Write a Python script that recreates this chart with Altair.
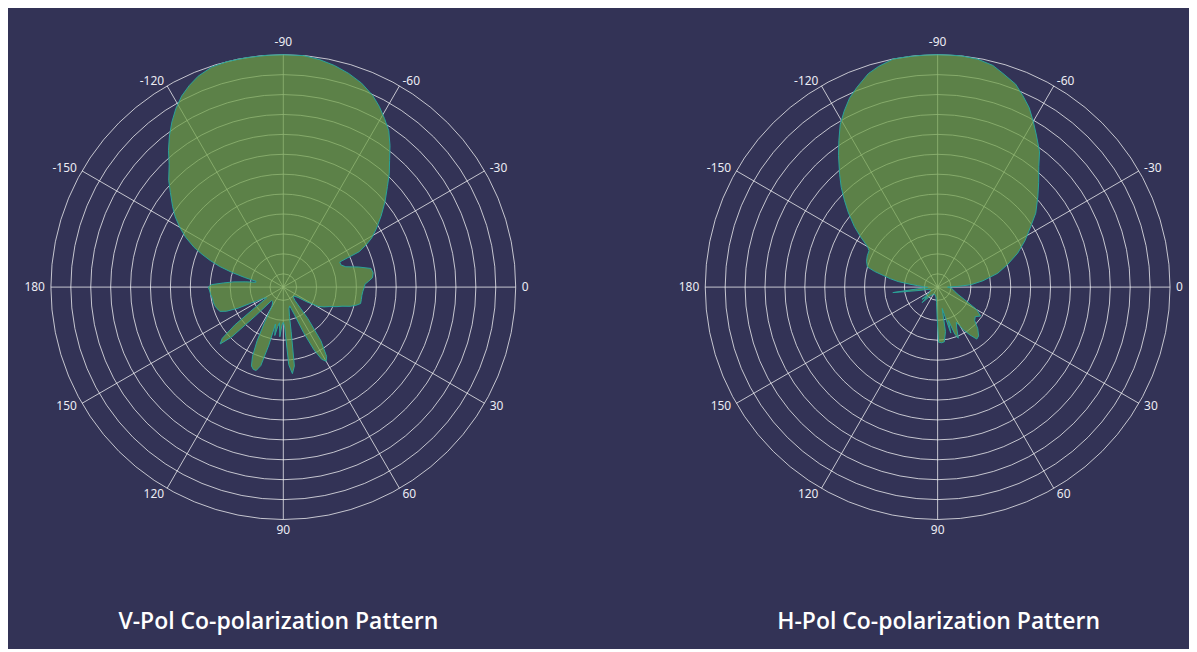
import altair as alt
import pandas as pd

# ---------------- data ----------------
# angles in degrees (0 = right, -90 = top, 90 = bottom), levels in dB
V_ANGLES = [-180, -178, -176, -174, -172, -170, -168, -166, -164, -162, -160, -158, -156,
            -153, -150, -147, -144, -140, -137, -133, -130, -127, -124, -121, -118, -115,
            -112, -108, -104, -99, -94, -90, -85, -81, -77, -73, -69, -65, -62, -59, -56,
            -53, -50, -47, -44, -40, -36, -32, -29, -27, -25, -24, -21, -18, -15, -12, -9,
            -6, -4, -2, 0, 3, 6, 9, 12, 14, 16, 18, 20, 23, 26, 29, 32, 35, 40, 45, 49, 52,
            55, 58, 60, 62, 64, 66, 68, 71, 75, 78, 80, 82, 84, 86, 88, 90, 92, 94, 96, 98,
            100, 102, 104, 106, 108, 110, 112, 114, 116, 118, 121, 126, 131, 134, 136, 138,
            140, 142, 144, 147, 150, 153, 155, 157, 159, 162, 165, 168, 171, 174, 177]
V_LEVELS = [-23.7, -24.2, -26.0, -27.5, -29.3, -30.8, -30.8, -29.0, -26.9, -24.9, -23.3, -21.8, -20.3,
            -18.5, -17.0, -15.6, -14.4, -12.8, -11.4, -9.8, -8.1, -6.5, -5.0, -3.6, -2.4, -1.5,
            -0.75, -0.15, 0.0, 0.0, 0.0, 0.0, 0.0, -0.3, -0.75, -1.35, -2.1, -3.15, -4.2, -5.4, -6.6,
            -8.3, -10.1, -11.6, -13.2, -15.0, -16.8, -18.5, -19.8, -21.0, -22.4, -25.7, -25.7, -25.1, -23.3, -21.5, -21.3,
            -21.5, -22.1, -22.7, -22.8, -23.0, -23.1, -23.1, -23.1, -23.7, -24.5, -25.7, -26.4, -27.5, -28.2, -29.0, -30.8, -32.3, -32.9, -32.9, -32.3, -29.0,
            -25.1, -22.7, -22.1, -22.7, -24.5, -27.5, -30.5, -32.0, -31.7, -30.5, -28.2, -23.0, -21.9, -23.3, -29.0, -29.7, -29.3, -27.5, -29.6, -29.0,
            -27.6, -29.3, -26.0, -22.7, -21.8, -21.8, -22.2, -23.6, -26.0, -29.0, -31.7, -32.3, -32.3, -29.0, -24.2, -22.2,
            -23.0, -25.7, -29.6, -32.0, -31.7, -30.2, -27.5, -25.7, -24.8, -24.5, -24.3, -24.2, -24.2, -24.0, -23.9]

H_ANGLES = [-180, -178, -176, -174, -172, -170, -168, -166, -164, -160, -156, -152, -150, -147,
            -144, -140, -137, -134, -131, -127, -124, -121, -118, -115, -112, -108, -105, -101,
            -97, -93, -90, -87, -84, -80, -76, -73, -69, -66, -63, -60, -57, -53, -50, -46, -42,
            -37, -33, -28, -23, -18, -13, -8, -4, -2, 0, 5, 10, 15, 20, 25, 30, 34, 38, 42, 46,
            50, 53, 56, 59, 62, 65, 68, 70, 72, 74, 76, 78, 80, 83, 86, 89, 91, 94, 100, 110,
            120, 130, 135, 138, 142, 146, 155, 165, 170, 173, 175, 178]
H_LEVELS = [-33.2, -32.7, -32.0, -30.8, -29.0, -27.8, -26.7, -25.2, -24.0, -23.6, -23.4, -23.3, -22.8, -21.2,
            -19.5, -17.4, -15.8, -14.1, -12.5, -10.2, -8.4, -6.5, -5.0, -3.6, -2.55, -1.2, -0.6, 0.0,
            0.0, 0.0, 0.0, 0.0, 0.0, -0.15, -0.6, -1.35, -2.25, -3.45, -4.65, -6.2, -7.7, -9.5, -11.3, -13.1, -14.7,
            -16.5, -18.3, -20.1, -21.9, -23.9, -25.7, -28.1, -30.0, -32.0, -33.5, -32.9, -32.6, -32.3, -31.7, -30.5, -28.2, -27.2, -27.8, -27.5, -26.3,
            -25.4, -25.2, -26.3, -27.5, -29.0, -28.2, -26.7, -27.5, -29.7, -27.8, -30.5, -31.7, -28.2, -26.7, -26.6, -26.7, -30.5, -32.7, -33.5, -33.8,
            -33.8, -33.2, -31.7, -32.9, -32.0, -33.5, -33.8, -33.8, -32.0, -28.2, -32.0, -33.5]

RING_LEVELS = [-33, -30, -27, -24, -21, -18, -15, -12, -9, -6, -3, 0]
SPOKE_ANGLES = [-150, -120, -90, -60, -30, 0, 30, 60, 90, 120, 150, 180]
SPOKE_LABELS = ["-150", "-120", "-90", "-60", "-30", "0", "30", "60", "90", "120", "150", "180"]
TITLES = ["V-Pol Co-polarization Pattern", "H-Pol Co-polarization Pattern"]

FLOOR = -35.0          # dB at the centre
R_PX = 233.0           # outer ring radius in pixels
K = R_PX / -FLOOR      # pixels per dB
LABEL_R = 239.0 / K    # label anchor radius in dB units from centre

BG = "#333356"
GREEN = "#6ca042"
TEAL = "#2aa39a"
GRID = "#ffffff"


def panel(angles, levels, title, left_px, right_px, title_dx):
    xs = alt.Scale(domain=[-left_px / K, right_px / K], nice=False, zero=False)
    ys = alt.Scale(domain=[-279 / K, 281 / K], nice=False, zero=False, reverse=True)

    rings = alt.Chart(pd.DataFrame({"level": RING_LEVELS})).transform_calculate(
        rho=f"datum.level - ({FLOOR})", zero="0"
    ).mark_point(shape="circle", filled=False, stroke=GRID, strokeOpacity=0.72,
                 strokeWidth=1, opacity=1).encode(
        x=alt.X("zero:Q", scale=xs, axis=None),
        y=alt.Y("zero:Q", scale=ys, axis=None),
        size=alt.Size("rho:Q", scale=alt.Scale(type="pow", exponent=2, domain=[0, -FLOOR],
                                               range=[0, (2 * R_PX) ** 2]), legend=None),
    )

    spokes = alt.Chart(pd.DataFrame({"angle": SPOKE_ANGLES})).transform_calculate(
        zero="0",
        ex=f"{-FLOOR} * cos(datum.angle * PI / 180)",
        ey=f"{-FLOOR} * sin(datum.angle * PI / 180)",
    ).mark_rule(stroke=GRID, strokeOpacity=0.72, strokeWidth=1).encode(
        x=alt.X("zero:Q", scale=xs, axis=None),
        y=alt.Y("zero:Q", scale=ys, axis=None),
        x2="ex:Q",
        y2="ey:Q",
    )

    pat_df = pd.DataFrame({"angle": angles, "level": levels, "idx": list(range(len(angles)))})
    pattern = alt.Chart(pat_df).transform_calculate(
        rho=f"max(0, datum.level - ({FLOOR}))",
        px="datum.rho * cos(datum.angle * PI / 180)",
        py="datum.rho * sin(datum.angle * PI / 180)",
    ).mark_line(interpolate="linear-closed", fill=GREEN, fillOpacity=0.72,
                stroke=TEAL, strokeWidth=1).encode(
        x=alt.X("px:Q", scale=xs, axis=None),
        y=alt.Y("py:Q", scale=ys, axis=None),
        order=alt.Order("idx:Q"),
    )

    lab_base = alt.Chart(pd.DataFrame({"angle": SPOKE_ANGLES, "label": SPOKE_LABELS})).transform_calculate(
        lx=f"{LABEL_R} * cos(datum.angle * PI / 180)",
        ly=f"{LABEL_R} * sin(datum.angle * PI / 180)",
        c="cos(datum.angle * PI / 180)",
        s="sin(datum.angle * PI / 180)",
    )
    lab_enc = dict(
        x=alt.X("lx:Q", scale=xs, axis=None),
        y=alt.Y("ly:Q", scale=ys, axis=None),
        text="label:N",
    )
    txt = dict(font="Noto Sans", fontSize=12, color="#ececf4")
    lab_right = lab_base.transform_filter("datum.c > 0.1").mark_text(
        align="left", baseline="middle", **txt).encode(**lab_enc)
    lab_left = lab_base.transform_filter("datum.c < -0.1").mark_text(
        align="right", baseline="middle", **txt).encode(**lab_enc)
    lab_top = lab_base.transform_filter("abs(datum.c) <= 0.1 && datum.s < 0").mark_text(
        align="center", baseline="bottom", **txt).encode(**lab_enc)
    lab_bot = lab_base.transform_filter("abs(datum.c) <= 0.1 && datum.s > 0").mark_text(
        align="center", baseline="top", **txt).encode(**lab_enc)

    return alt.layer(rings, spokes, pattern, lab_right, lab_left, lab_top, lab_bot).properties(
        width=left_px + right_px,
        height=560,
        title=alt.Title(title, orient="bottom", anchor="middle", offset=44, dx=title_dx,
                        font="Open Sans", fontSize=23, fontWeight=600, color="#ffffff"),
    )


left = panel(V_ANGLES, V_LEVELS, TITLES[0], 276, 254, 6)
right = panel(H_ANGLES, H_LEVELS, TITLES[1], 262, 248, 8)

chart = alt.hconcat(left, right, spacing=140).properties(
    padding={"left": 0, "top": 0, "right": 4, "bottom": 14},
    background=BG,
).configure_view(stroke=None)

chart.save("out.html", embed_options={"renderer": "svg", "actions": False})
